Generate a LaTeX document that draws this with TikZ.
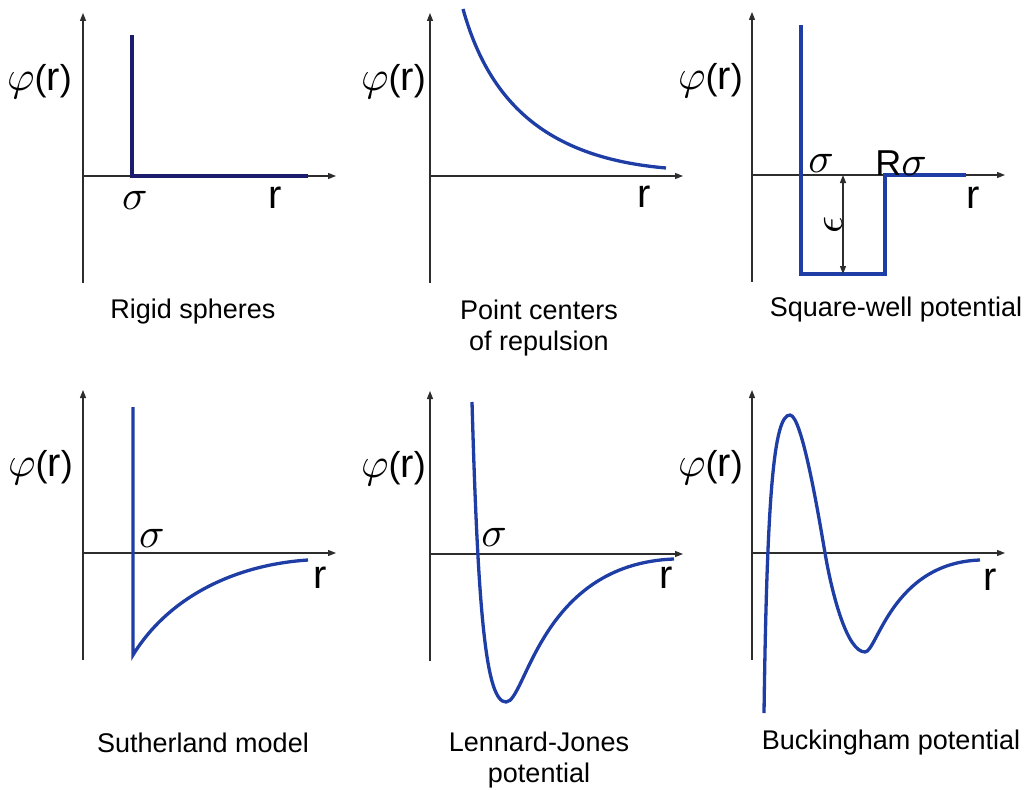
\documentclass[tikz,border=0pt]{standalone}
\usepackage{graphicx}
\usepackage{fontspec}
\setmainfont{Liberation Sans}
\usetikzlibrary{arrows.meta}
\definecolor{curveblue}{RGB}{30,62,165}
\definecolor{rigidnavy}{RGB}{28,28,110}
\definecolor{axisgray}{RGB}{45,45,45}
\newcommand{\gr}[1]{{\fontsize{10}{12}\selectfont\scalebox{4.2}{$#1$}}}
\newcommand{\rr}{{\fontsize{40}{40}\selectfont r}}
\newcommand{\phir}{\gr{\varphi}(\rr)}

\begin{document}
\begin{tikzpicture}[x=1pt, y=1pt,
        axisline/.style={axisgray, line width=1.2pt},
        tip/.tip={Triangle[length=8pt, width=6pt]},
        curve/.style={curveblue, line width=3.3pt},
        big/.style={font=\fontsize{36}{40}\selectfont, inner sep=0pt},
        caption/.style={font=\fontsize{27}{31}\selectfont, align=center}]
        \useasboundingbox (0,0) rectangle (1032,-789);
        % Draw the axes of the six panels
        \foreach \name/\ox/\oy in {rs/83/-176, pc/430/-176, sw/752/-175,
                                   su/83/-553, lj/430/-554, bu/752/-553}
            {
            \coordinate (\name) at (\ox,\oy);
            \begin{scope}[shift={(\name)}]
                \draw[axisline, -tip] (0,-107) -- (0,163);
                \draw[axisline, -tip] (0,0) -- (253,0);
            \end{scope}
            }
        % Rigid spheres
        \begin{scope}[shift={(rs)}]
            \draw[curve, rigidnavy] (49,141) -- (49,0) -- (225,0);
            \node[big, anchor=east] (rsphi) at (-11,94) {\phir};
            \node[big] (rssigma) at (52,-24) {\gr{\sigma}};
            \node[big] (rsr) at (192,-22) {\rr};
        \end{scope}
        \node[caption] (rscap) at (193,-312) {Rigid spheres};
        % Point centers of repulsion
        \begin{scope}[shift={(pc)}]
            \draw[curve] (33,167) .. controls (60,70) and (120,18) .. (236,8);
            \node[big, anchor=east] (pcphi) at (-4,94) {\phir};
            \node[big] (pcr) at (214,-21) {\rr};
        \end{scope}
        \node[caption] (pccap) at (539,-328) {Point centers\\of repulsion};
        % Square-well potential
        \begin{scope}[shift={(sw)}]
            \draw[curve] (49,150) -- (49,-99) -- (133,-99) -- (133,0) -- (214,0);
            \coordinate (epstop) at (91,0);
            \coordinate (epsbot) at (91,-99);
            \draw[axisline, tip-tip] (epstop) -- (epsbot);
            \node[big, rotate=90] (eps) at (81,-50) {\gr{\epsilon}};
            \node[big, anchor=east] (swphi) at (-9,94) {\phir};
            \node[big] (swsigma) at (69,12) {\gr{\sigma}};
            \node[big] (swrsigma) at (149,12) {R\gr{\sigma}};
            \node[big] (swr) at (221,-23) {\rr};
        \end{scope}
        \node[caption] (swcap) at (896,-310) {Square-well potential};
        % Sutherland model
        \begin{scope}[shift={(su)}]
            \draw[curve] (50,146) -- (50,-102) .. controls (85,-45) and (150,-12) .. (225,-7);
            \node[big, anchor=east] (suphi) at (-10,85) {\phir};
            \node[big] (susigma) at (69,15) {\gr{\sigma}};
            \node[big] (sur) at (237,-25) {\rr};
        \end{scope}
        \node[caption] (sucap) at (203,-743) {Sutherland model};
        % Lennard-Jones potential
        \begin{scope}[shift={(lj)}]
            \draw[curve] (42,152) .. controls (48,-60) and (56,-148) .. (76,-148)
                .. controls (96,-148) and (110,-10) .. (244,-5);
            \node[big, anchor=east] (ljphi) at (-4,85) {\phir};
            \node[big] (ljsigma) at (64,17) {\gr{\sigma}};
            \node[big] (ljr) at (236,-24) {\rr};
        \end{scope}
        \node[caption] (ljcap) at (539,-760) {Lennard-Jones\\potential};
        % Buckingham potential
        \begin{scope}[shift={(bu)}]
            \draw[curve] (12,-160) .. controls (15,60) and (22,138) .. (38,138)
                .. controls (50,138) and (67,35) .. (73,0)
                .. controls (80,-41) and (95,-99) .. (113,-99)
                .. controls (125,-99) and (140,-10) .. (228,-7);
            \node[big, anchor=east] (buphi) at (-9,85) {\phir};
            \node[big] (bur) at (238,-27) {\rr};
        \end{scope}
        \node[caption] (bucap) at (891,-743) {Buckingham potential};
    \end{tikzpicture}
\end{document}
